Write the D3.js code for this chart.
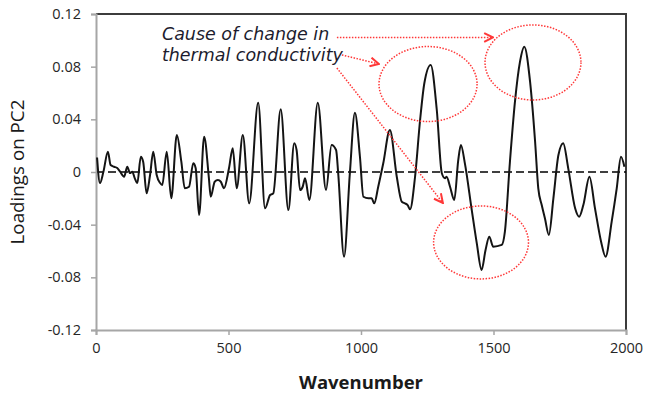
<!DOCTYPE html>
<html>
<head>
<meta charset="utf-8">
<script src="https://cdn.jsdelivr.net/npm/d3@7"></script>
<style>
  body { margin: 0; background: #fff; }
  text { font-family: "Open Sans", sans-serif; }
</style>
</head>
<body>
<div id="chart"></div>
<script>
// PC2 loadings
const wavenumber = [
  4, 15, 28, 45, 55, 68, 80, 91, 106, 118, 128, 137, 146, 156, 169, 178, 191, 204, 216, 229,
  242, 250, 267, 284, 305, 322, 335, 351, 367, 376, 389, 408, 426, 433, 448, 460, 471, 483, 502, 516,
  531, 554, 578, 612, 638, 657, 669, 697, 726, 748, 757, 770, 780, 789, 805, 837, 868, 889, 906, 914,
  936, 958, 977, 996, 1009, 1028, 1040, 1050, 1065, 1084, 1109, 1135, 1154, 1166, 1176, 1185, 1204, 1223, 1239, 1263,
  1286, 1305, 1317, 1323, 1336, 1352, 1367, 1377, 1392, 1418, 1437, 1455, 1470, 1484, 1499, 1531, 1543, 1562, 1581, 1600,
  1616, 1638, 1657, 1669, 1682, 1694, 1709, 1726, 1745, 1763, 1782, 1808, 1823, 1839, 1862, 1883, 1906, 1923, 1946, 1965,
  1981, 1994
]
const loading = [
  0.0110, -0.0084, 0.0002, 0.0154, 0.0053, 0.0040, 0.0030, 0.0002, -0.0036, 0.0040, -0.0008, 0.0002, -0.0046, -0.0084, 0.0116, 0.0078, -0.0162, -0.0023, 0.0154, -0.0023,
  -0.0084, -0.0099, 0.0154, -0.0200, 0.0281, 0.0078, -0.0124, -0.0112, 0.0066, 0.0030, -0.0327, 0.0268, -0.0046, -0.0188, -0.0074, -0.0061, -0.0074, -0.0124, 0.0030, 0.0180,
  -0.0124, 0.0281, -0.0238, 0.0526, -0.0276, -0.0175, -0.0162, 0.0476, -0.0289, 0.0218, 0.0167, -0.0137, -0.0112, -0.0048, -0.0213, 0.0526, -0.0137, 0.0205, 0.0167, -0.0010,
  -0.0643, -0.0008, 0.0450, 0.0116, -0.0188, -0.0200, -0.0200, -0.0238, -0.0112, 0.0066, 0.0319, -0.0036, -0.0226, -0.0238, -0.0251, -0.0283, -0.0036, 0.0395, 0.0674, 0.0813,
  0.0471, -0.0010, -0.0048, -0.0036, -0.0112, -0.0213, 0.0091, 0.0205, 0.0066, -0.0289, -0.0542, -0.0744, -0.0592, -0.0491, -0.0567, -0.0554, -0.0453, 0.0078, 0.0534, 0.0838,
  0.0952, 0.0686, 0.0230, -0.0124, -0.0251, -0.0352, -0.0478, -0.0200, 0.0129, 0.0218, 0.0028, -0.0276, -0.0340, -0.0251, -0.0036, -0.0276, -0.0529, -0.0643, -0.0377, -0.0124,
  0.0116, 0.0040
]
const xTicks = [0, 500, 1000, 1500, 2000]
const yTicks = [-0.12, -0.08, -0.04, 0, 0.04, 0.08, 0.12]
const noteLines = ['Cause of change in', 'thermal conductivity']

function fitText (sel, target) {
  const size = +sel.attr('font-size')
  const w = sel.node().getComputedTextLength()
  sel.attr('font-size', size * target / w)
}

function createChart ({ el, width, height }) {
  const margin = { top: 14, right: 21, bottom: 63, left: 96 }
  const x = d3.scaleLinear().domain([0, 2000]).range([margin.left, width - margin.right])
  const y = d3.scaleLinear().domain([-0.12, 0.12]).range([height - margin.bottom, margin.top])

  const svg = d3.select(el).append('svg')
    .attr('width', width)
    .attr('height', height)

  const red = '#ff3838'
  svg.append('defs').append('marker')
    .attr('id', 'arrow')
    .attr('viewBox', '0 0 10 10')
    .attr('refX', 9).attr('refY', 5)
    .attr('markerWidth', 11).attr('markerHeight', 11)
    .attr('markerUnits', 'userSpaceOnUse')
    .attr('orient', 'auto')
    .append('path')
    .attr('d', 'M1,1 L9,5 L1,9')
    .attr('fill', 'none')
    .attr('stroke', red)
    .attr('stroke-width', 1.8)

  // top and right frame
  svg.append('path')
    .attr('d', `M${x(0)},${y(0.12)} H${x(2000)} V${y(-0.12)}`)
    .attr('fill', 'none')
    .attr('stroke', '#3c3c3c')
    .attr('stroke-width', 2)

  // zero line
  svg.append('line')
    .attr('x1', x(0)).attr('x2', x(2000))
    .attr('y1', y(0)).attr('y2', y(0))
    .attr('stroke', '#000')
    .attr('stroke-width', 1.5)
    .attr('stroke-dasharray', '8,4')

  const yAxis = svg.append('g')
    .attr('transform', `translate(${x(0)},0)`)
    .call(d3.axisLeft(y).tickValues(yTicks).tickSize(5).tickPadding(10)
      .tickFormat(d => d === 0 ? '0' : d.toFixed(2)))
  const xAxis = svg.append('g')
    .attr('transform', `translate(0,${y(-0.12)})`)
    .call(d3.axisBottom(x).tickValues(xTicks).tickSize(5).tickPadding(8)
      .tickFormat(d3.format('d')))

  ;[yAxis, xAxis].forEach(g => {
    g.select('.domain').attr('stroke', '#a6a6a6').attr('stroke-width', 2)
    g.selectAll('.tick line').attr('stroke', '#a6a6a6').attr('stroke-width', 1.5)
    g.selectAll('.tick text')
      .attr('fill', '#262626')
      .attr('font-size', 14.5)
      .attr('font-family', '"Open Sans", sans-serif')
  })

  const line = d3.line()
    .x((d, i) => x(wavenumber[i]))
    .y(d => y(d))
    .curve(d3.curveMonotoneX)

  svg.append('path')
    .datum(loading)
    .attr('d', line)
    .attr('fill', 'none')
    .attr('stroke', '#141414')
    .attr('stroke-width', 2)
    .attr('stroke-linejoin', 'round')

  // annotation
  const circles = [
    { wn: 1253, v: 0.0668, rw: 185, rv: 0.0285 },
    { wn: 1649, v: 0.0832, rw: 181, rv: 0.0285 },
    { wn: 1453, v: -0.0535, rw: 179, rv: 0.0277 }
  ]
  svg.selectAll('.ring')
    .data(circles).enter()
    .append('ellipse')
    .attr('class', 'ring')
    .attr('cx', d => x(d.wn))
    .attr('cy', d => y(d.v))
    .attr('rx', d => x(d.rw) - x(0))
    .attr('ry', d => y(0) - y(d.rv))
    .attr('fill', 'none')
    .attr('stroke', red)
    .attr('stroke-width', 1.5)
    .attr('stroke-dasharray', '1.5,1.5')

  const arrows = [
    { from: [909, 0.1022], to: [1498, 0.1022] },
    { from: [928, 0.0889], to: [1068, 0.0820] },
    { from: [909, 0.0790], to: [1309, -0.0235] }
  ]
  svg.selectAll('.arrow')
    .data(arrows).enter()
    .append('line')
    .attr('class', 'arrow')
    .attr('x1', d => x(d.from[0])).attr('y1', d => y(d.from[1]))
    .attr('x2', d => x(d.to[0])).attr('y2', d => y(d.to[1]))
    .attr('stroke', red)
    .attr('stroke-width', 1.5)
    .attr('stroke-dasharray', '1.5,1.5')
    .attr('marker-end', 'url(#arrow)')

  // note text, DejaVu keeps the two tight lines from touching
  const note = svg.selectAll('.note')
    .data(noteLines).enter()
    .append('text')
    .attr('class', 'note')
    .attr('x', x(249))
    .attr('y', (d, i) => y(0.1003) + i * 21)
    .style('font-family', '"DejaVu Sans", sans-serif')
    .attr('font-size', 16)
    .attr('font-style', 'italic')
    .attr('fill', '#1c1c2e')
    .text(d => d)
  const second = d3.select(note.nodes()[1])
  fitText(second, 181)
  note.attr('font-size', Math.min(17.5, +second.attr('font-size')))

  // axis titles
  const yTitle = svg.append('text')
    .attr('transform', `translate(24,${(y(0.12) + y(-0.12)) / 2}) rotate(-90)`)
    .attr('text-anchor', 'middle')
    .attr('font-size', 16)
    .attr('fill', '#1a1a1a')
    .text('Loadings on PC2')
  fitText(yTitle, 145)

  const xTitle = svg.append('text')
    .attr('x', (x(0) + x(2000)) / 2)
    .attr('y', 389)
    .attr('text-anchor', 'middle')
    .attr('font-size', 16)
    .attr('font-weight', 'bold')
    .attr('fill', '#1a1a1a')
    .text('Wavenumber')
  fitText(xTitle, 124)
}

createChart({ el: '#chart', width: 647, height: 393 })
</script>
</body>
</html>
